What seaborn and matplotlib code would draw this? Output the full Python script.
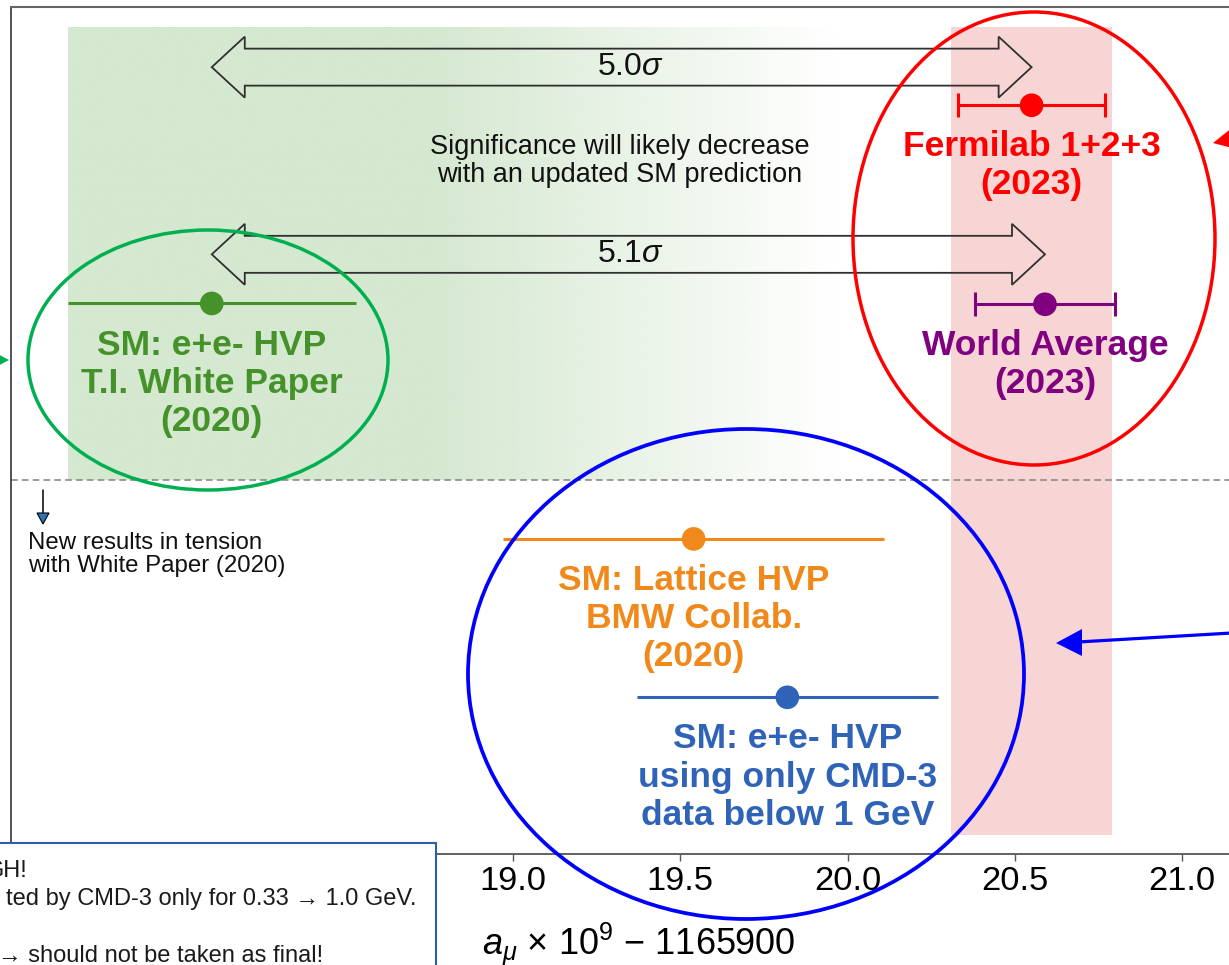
import numpy as np
import pandas as pd
import matplotlib
matplotlib.use("Agg")
import matplotlib.pyplot as plt
import matplotlib.transforms as mtransforms
from matplotlib.patches import Ellipse, Polygon, Rectangle
import seaborn as sns

# ---------------- data ----------------
names = ["Fermilab 1+2+3\n(2023)",
         "World Average\n(2023)",
         "SM: e+e- HVP\nT.I. White Paper\n(2020)",
         "SM: Lattice HVP\nBMW Collab.\n(2020)",
         "SM: e+e- HVP\nusing only CMD-3\ndata below 1 GeV"]
values = [20.55, 20.59, 18.10, 19.54, 19.82]
errors = [0.22, 0.21, 0.43, 0.57, 0.45]
has_caps = [True, True, False, False, False]
fnal_band = [20.31, 20.79]
tension_labels = ["5.0$\\sigma$", "5.1$\\sigma$"]
tension_from = [18.10, 18.10]
tension_to = [20.55, 20.59]
tick_values = [19.0, 19.5, 20.0, 20.5, 21.0]
tick_labels = ["19.0", "19.5", "20.0", "20.5", "21.0"]
note_text = "Significance will likely decrease\nwith an updated SM prediction"
tension_note = "New results in tension\nwith White Paper (2020)"
box_lines = ["GH!", "ted by CMD-3 only for 0.33 \u2192 1.0 GeV.",
             "\u2192 should not be taken as final!"]

# ---------------- layout / style ----------------
rows = [88.4, 64.9, 65.0, 37.2, 18.5]
arrow_rows = [92.9, 70.8]
colors = ["#ff0000", "#800080", "#45922a", "#f0891a", "#2e63b8"]
W, H = 1229, 965
PXY = 847 / 100  # pixels per y unit

sns.set_theme(style="white")
plt.rcParams["font.family"] = ["Liberation Sans", "DejaVu Sans"]
plt.rcParams["mathtext.fontset"] = "custom"
plt.rcParams["mathtext.rm"] = "Liberation Sans"
plt.rcParams["mathtext.it"] = "Liberation Sans:italic"
plt.rcParams["mathtext.bf"] = "Liberation Sans:bold"

fig = plt.figure(figsize=(W / 100, H / 100), dpi=100)
ax = fig.add_axes([11 / W, 111 / H, 1338.5 / W, 847 / H])
PX = mtransforms.Affine2D().scale(1 / W, -1 / H).translate(0, 1) + fig.transFigure

xmin, xmax = 17.5, 21.5

# green gradient (White Paper region)
g_lo, g_full, g_hi = 17.67, 18.75, 19.97
xs = np.linspace(g_lo, g_hi, 400)
alpha = np.clip((g_hi - xs) / (g_hi - g_full), 0, 1)
img = np.zeros((2, len(xs), 4))
img[..., 0] = 0xd5 / 255
img[..., 1] = 0xe8 / 255
img[..., 2] = 0xd0 / 255
img[..., 3] = alpha[None, :]
ax.imshow(img, extent=[g_lo, g_hi, 44.16, 97.6], aspect="auto", zorder=0,
          interpolation="bilinear")

# pink band (Fermilab)
ax.axvspan(fnal_band[0], fnal_band[1], ymin=0.0224, ymax=0.976,
           color="#f8d5d5", lw=0, zorder=0)

ax.set_xlim(xmin, xmax)
ax.set_ylim(0, 100)

# dashed separator
ax.axhline(44.16, color="#8a8a8a", lw=1.2, ls=(0, (4, 2.5)), zorder=1)

# double block arrows
sx, sy = 1 / 334.7, 1 / PXY
hl = 33 * sx
for lab, x0, x1, yc in zip(tension_labels, tension_from, tension_to, arrow_rows):
    hh, hs = 30.5 * sy, 18.5 * sy
    pts = [(x0, yc), (x0 + hl, yc + hh), (x0 + hl, yc + hs), (x1 - hl, yc + hs),
           (x1 - hl, yc + hh), (x1, yc), (x1 - hl, yc - hh), (x1 - hl, yc - hs),
           (x0 + hl, yc - hs), (x0 + hl, yc - hh)]
    ax.add_patch(Polygon(pts, closed=True, fill=False, ec="#303030", lw=1.3, zorder=3))
    ax.text(19.35, yc, lab, ha="center", va="center", fontsize=23, color="#111111", zorder=4)

ax.text(19.32, (854 - 182) / PXY, note_text, ha="center", va="baseline", fontsize=19.5,
        color="#111111", linespacing=1.12, zorder=4)

# error bars
for v, r, e, cap, c in zip(values, rows, errors, has_caps, colors):
    ax.errorbar(v, r, xerr=e, fmt="none", ecolor=c, elinewidth=2.2,
                capsize=8.5 if cap else 0, capthick=2.2, zorder=4)

df = pd.DataFrame({"value": values, "row": rows, "name": names})
sns.scatterplot(data=df, x="value", y="row", hue="name", palette=colors, s=290,
                linewidth=0, legend=False, ax=ax, zorder=5)

for v, r, n, c in zip(values, rows, names, colors):
    nlines = n.count("\n") + 1
    y_last = r - (49.5 + (nlines - 1) * 39) / PXY
    ax.text(v, y_last, n, ha="center", va="baseline", fontsize=25.5,
            fontweight="bold", color=c, linespacing=1.2, zorder=6)

# axes styling
ax.set_yticks([])
ax.set_xticks(tick_values)
ax.set_xticklabels(tick_labels)
ax.tick_params(axis="x", direction="out", length=5, width=1, color="#555555",
               labelsize=24.8, pad=4, labelcolor="black", bottom=True)
for side in ["top", "bottom", "left", "right"]:
    ax.spines[side].set_visible(True)
ax.spines["top"].set_color("#666666")
ax.spines["top"].set_linewidth(1.5)
ax.spines["bottom"].set_color("#555555")
ax.spines["bottom"].set_linewidth(1.3)
ax.spines["left"].set_color("#333333")
ax.spines["left"].set_linewidth(1.2)
ax.set_ylabel("")
ax.set_xlabel("$a_\\mu$ \u00d7 10$^9$ \u2212 1165900", fontsize=26, loc="left",
              color="black")
ax.xaxis.set_label_coords((482 - 11) / 1338.5, -0.079)

# ellipses and side arrows
fig.add_artist(Ellipse((1034, 238.5), 362, 453, transform=PX, fill=False,
                       ec="#ff0000", lw=2.5, zorder=7))
fig.add_artist(Ellipse((208, 360), 360, 260, transform=PX, fill=False,
                       ec="#00b050", lw=2.5, zorder=7))
fig.add_artist(Ellipse((746, 674), 556, 490, transform=PX, fill=False,
                       ec="#0000ff", lw=2.7, zorder=7))
fig.add_artist(Polygon([(1213, 143), (1233, 127), (1236, 149)], closed=True,
                       transform=PX, fc="#ff0000", ec="none", zorder=7))
fig.add_artist(Polygon([(-8, 351), (-8, 369), (9, 360)], closed=True,
                       transform=PX, fc="#00b050", ec="none", zorder=7))
fig.add_artist(plt.Line2D([1240, 1078], [632.5, 642], transform=PX,
                          color="#0000ff", lw=2.3, zorder=7))
fig.add_artist(Polygon([(1056, 643), (1082, 629), (1082, 656)], closed=True,
                       transform=PX, fc="#0000ff", ec="none", zorder=7))

# small down arrow and tension note
fig.add_artist(plt.Line2D([43, 43], [490, 514], transform=PX, color="black",
                          lw=1.1, zorder=7))
fig.add_artist(Polygon([(37, 513), (49, 513), (43, 524)], closed=True,
                       transform=PX, fc="#2e75b6", ec="black", lw=0.8, zorder=7))
fig.text(28, 572, tension_note, transform=PX, ha="left", va="baseline",
         fontsize=17.3, color="#111111", linespacing=1.03, zorder=8)

# bottom-left box
fig.add_artist(Rectangle((-10, 843), 446, 160, transform=PX, fc="white",
                         ec="#2e5fa8", lw=1.5, zorder=9))
for txt, xr, yb in zip(box_lines, [28, 417, 323], [877, 905, 962]):
    fig.text(xr, yb, txt, transform=PX, ha="right", va="baseline", fontsize=17,
             color="#1a1a1a", zorder=10)

fig.savefig("out.png", dpi=100)
